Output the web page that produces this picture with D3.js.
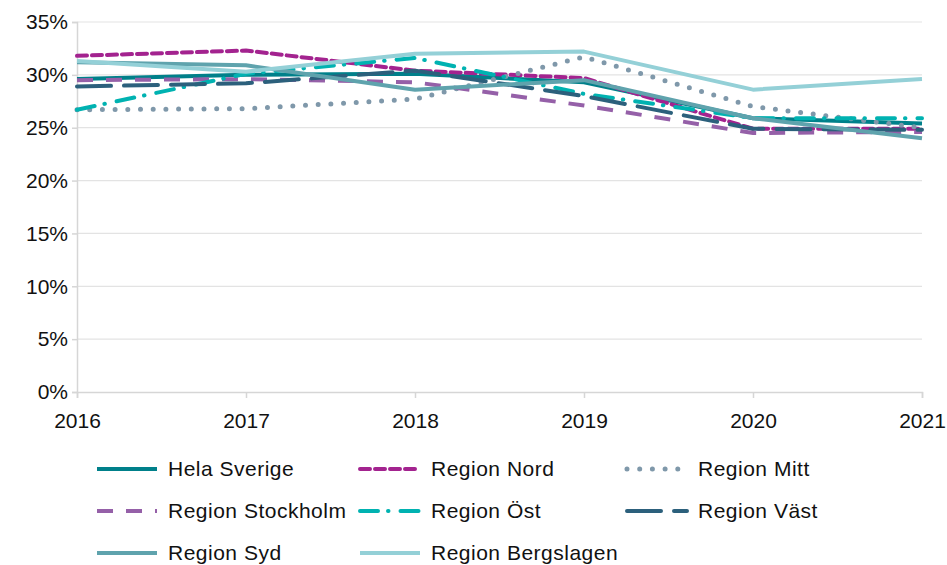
<!DOCTYPE html>
<html>
<head>
<meta charset="utf-8">
<script src="https://cdn.jsdelivr.net/npm/d3@7"></script>
<style>
  html, body { margin: 0; padding: 0; background: #fff; }
  svg { display: block; font-family: "Liberation Sans", Arial, Helvetica, sans-serif; }
</style>
</head>
<body>
<svg id="chart" width="947" height="565"></svg>
<script>
// Years on the x axis
const years = [2016, 2017, 2018, 2019, 2020, 2021];

// Share per region and year (percent)
const helaSverige      = [29.6, 30.0, 30.1, 29.3, 25.9, 25.4];
const regionNord       = [31.8, 32.3, 30.4, 29.7, 24.9, 24.9];
const regionMitt       = [26.7, 26.8, 27.7, 31.7, 27.0, 25.0];
const regionStockholm  = [29.5, 29.6, 29.3, 27.1, 24.5, 24.6];
const regionOst        = [26.7, 30.1, 31.6, 28.2, 25.9, 25.9];
const regionVast       = [28.9, 29.2, 30.4, 28.0, 24.9, 24.8];
const regionSyd        = [31.2, 30.9, 28.6, 29.5, 25.9, 24.0];
const regionBergslagen = [31.3, 30.3, 32.0, 32.2, 28.6, 29.6];

// Y axis tick values (percent)
const yTicks = [0, 5, 10, 15, 20, 25, 30, 35];

// Series names, legend order
const seriesNames = ["Hela Sverige", "Region Nord", "Region Mitt", "Region Stockholm",
                     "Region Öst", "Region Väst", "Region Syd", "Region Bergslagen"];
const seriesValues = [helaSverige, regionNord, regionMitt, regionStockholm,
                      regionOst, regionVast, regionSyd, regionBergslagen];

// Line styling per series
const styles = [
  { color: "#00808a", width: 4,   dash: null,           cap: "butt"  },
  { color: "#a3238f", width: 4,   dash: "10,5",         cap: "round" },
  { color: "#7f98aa", width: 5,   dash: "0,12.7",       cap: "round" },
  { color: "#9560a8", width: 4,   dash: "16,13",        cap: "butt"  },
  { color: "#00b2b1", width: 4,   dash: "18,10,0.5,12", cap: "round" },
  { color: "#2c607c", width: 4,   dash: "34,13",        cap: "round" },
  { color: "#5fa3ad", width: 4,   dash: null,           cap: "butt"  },
  { color: "#94d0d7", width: 4,   dash: null,           cap: "butt"  }
];

const svg = d3.select("#chart");
const plot = { left: 77, right: 922, top: 22, bottom: 392 };

const x = d3.scaleLinear().domain([2016, 2021]).range([plot.left, plot.right]);
const y = d3.scaleLinear().domain([0, 35]).range([plot.bottom, plot.top]);

// Horizontal gridlines
svg.append("g")
  .selectAll("line")
  .data(yTicks.filter(d => d > 0))
  .join("line")
  .attr("x1", plot.left).attr("x2", plot.right)
  .attr("y1", d => y(d)).attr("y2", d => y(d))
  .attr("stroke", "#e3e3e3").attr("stroke-width", 1.2);

// Y axis
const yAxis = svg.append("g")
  .attr("transform", `translate(${plot.left},0)`)
  .call(d3.axisLeft(y).tickValues(yTicks).tickFormat(d => d + "%").tickSize(5).tickPadding(4));
yAxis.select(".domain").attr("stroke", "#d6d6d6").attr("stroke-width", 1.5);
yAxis.selectAll(".tick line").attr("stroke", "#d6d6d6").attr("stroke-width", 1.5);
yAxis.selectAll(".tick text")
  .attr("font-size", 21).attr("fill", "#111")
  .attr("font-family", "'Liberation Sans', Arial, sans-serif");

// X axis
const xAxis = svg.append("g")
  .attr("transform", `translate(0,${plot.bottom})`)
  .call(d3.axisBottom(x).tickValues(years).tickFormat(d3.format("d")).tickSize(6).tickPadding(15));
xAxis.select(".domain").attr("stroke", "#d6d6d6").attr("stroke-width", 1.5);
xAxis.selectAll(".tick line").attr("stroke", "#d6d6d6").attr("stroke-width", 1.5);
xAxis.selectAll(".tick text")
  .attr("font-size", 21).attr("fill", "#111")
  .attr("font-family", "'Liberation Sans', Arial, sans-serif");

// Series lines
const line = d3.line()
  .x((d, i) => x(years[i]))
  .y(d => y(d));

const linesG = svg.append("g");
seriesValues.forEach((vals, i) => {
  const s = styles[i];
  linesG.append("path")
    .datum(vals)
    .attr("d", line)
    .attr("fill", "none")
    .attr("stroke", s.color)
    .attr("stroke-width", s.width)
    .attr("stroke-dasharray", s.dash)
    .attr("stroke-linecap", s.cap)
    .attr("stroke-linejoin", "round");
});

// Legend: three columns, row-major
const colX = [95, 358, 625];
const rowY = [469, 511, 553];
const legend = svg.append("g");
seriesNames.forEach((name, i) => {
  const s = styles[i];
  const cx = colX[i % 3], cy = rowY[Math.floor(i / 3)];
  const g = legend.append("g");
  g.append("line")
    .attr("x1", cx + 2).attr("x2", cx + 62)
    .attr("y1", cy).attr("y2", cy)
    .attr("stroke", s.color)
    .attr("stroke-width", s.width)
    .attr("stroke-dasharray", s.dash)
    .attr("stroke-linecap", s.cap);
  g.append("text")
    .attr("x", cx + 73).attr("y", cy)
    .attr("dy", "0.35em")
    .attr("font-size", 21)
    .attr("letter-spacing", 0.5)
    .attr("fill", "#111")
    .text(name);
});
</script>
</body>
</html>
